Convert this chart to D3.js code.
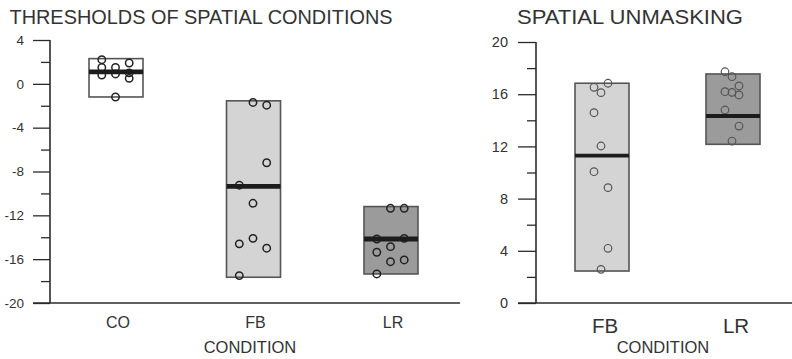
<!DOCTYPE html>
<html>
<head>
<meta charset="utf-8">
<script src="https://cdn.jsdelivr.net/npm/d3@7"></script>
<style>
  html, body { margin: 0; padding: 0; background: #fff; }
  svg { display: block; font-family: "Liberation Sans", Arial, Helvetica, sans-serif; }
</style>
</head>
<body>
<svg id="chart" width="792" height="359"></svg>
<script>
// ---------- DATA ----------
const leftTitle = "THRESHOLDS OF SPATIAL CONDITIONS";
const rightTitle = "SPATIAL UNMASKING";
const xAxisTitle = "CONDITION";

const leftCategories = ["CO", "FB", "LR"];
const leftTicks = [-20, -16, -12, -8, -4, 0, 4];
const leftMinorTicks = [-18, -14, -10, -6, -2, 2];
const leftBoxLow = [-1.2, -17.65, -17.35];
const leftBoxHigh = [2.3, -1.55, -11.2];
const leftCenterLine = [1.1, -9.35, -14.16];

const coValues = [2.2, 1.5, 0.8, 1.5, 0.9, -1.2, 1.9, 1.0, 0.5];
const coColumns = [-1, -1, -1, 0, 0, 0, 1, 1, 1];
const fbLeftValues = [-1.7, -1.95, -7.2, -9.25, -10.9, -14.1, -14.6, -15.0, -17.5];
const fbLeftColumns = [0, 1, 1, -1, 0, 0, -1, 1, -1];
const lrLeftValues = [-11.36, -11.36, -14.16, -14.1, -15.37, -14.86, -16.23, -16.07, -17.35];
const lrLeftColumns = [0, 1, -1, 1, -1, 0, 0, 1, -1];

const rightCategories = ["FB", "LR"];
const rightTicks = [0, 4, 8, 12, 16, 20];
const rightMinorTicks = [2, 6, 10, 14, 18];
const rightBoxLow = [2.45, 12.16];
const rightBoxHigh = [16.84, 17.55];
const rightCenterLine = [11.29, 14.33];

const fbRightValues = [16.84, 16.53, 16.12, 14.58, 12.03, 10.06, 8.84, 4.19, 2.58];
const fbRightColumns = [1, -1, 0, -1, 0, -1, 1, 1, 0];
const lrRightValues = [17.72, 17.34, 16.19, 16.14, 16.63, 15.94, 14.79, 13.56, 12.41];
const lrRightColumns = [-1, 0, -1, 0, 1, 1, -1, 1, 0];

const boxFills = { CO: "#ffffff", FB: "#d4d4d4", LR: "#9b9b9b" };

// ---------- DRAW ----------
const svg = d3.select("#chart");
const ink = "#2b2b2b";

function drawPanel(cfg) {
  const g = svg.append("g");
  const y = d3.scaleLinear().domain(cfg.yDomain).range([cfg.yBottom, cfg.yTop]);
  const x = d3.scaleBand().domain(cfg.categories).range(cfg.xRange).padding(0);
  const jitter = d3.scaleLinear().domain([-1, 1]).range([-cfg.jitter, cfg.jitter]);

  // title
  g.append("text")
    .attr("x", cfg.titleX).attr("y", 23.5)
    .attr("font-size", 20).attr("fill", "#333")
    .attr("textLength", cfg.titleLen).attr("lengthAdjust", "spacingAndGlyphs")
    .text(cfg.title);

  // y axis (major)
  const yAxis = d3.axisLeft(y).tickValues(cfg.ticks).tickSize(cfg.majorTick).tickPadding(cfg.tickPad)
    .tickFormat(d3.format("d"));
  const ya = g.append("g").attr("transform", `translate(${cfg.axisX},0)`).call(yAxis);
  ya.select(".domain").remove();
  ya.selectAll(".tick line").attr("stroke", ink).attr("stroke-width", 1.3);
  ya.selectAll(".tick text").attr("fill", "#333").attr("font-size", cfg.tickFont)
    .attr("font-family", "Liberation Sans, Arial, sans-serif")
    .text(d => d < 0 ? "-" + Math.abs(d) : d);
  // minor ticks
  const yMinor = d3.axisLeft(y).tickValues(cfg.minorTicks).tickSize(cfg.minorTick).tickFormat("");
  const ym = g.append("g").attr("transform", `translate(${cfg.axisX},0)`).call(yMinor);
  ym.select(".domain").remove();
  ym.selectAll(".tick line").attr("stroke", ink).attr("stroke-width", 1.3);

  // axis lines
  g.append("line").attr("x1", cfg.axisX).attr("x2", cfg.axisX)
    .attr("y1", y(cfg.yDomain[1])).attr("y2", y(cfg.yDomain[0]))
    .attr("stroke", ink).attr("stroke-width", 1.6);
  g.append("line").attr("x1", cfg.axisX - cfg.majorTick).attr("x2", cfg.xLineEnd)
    .attr("y1", y(cfg.yDomain[0])).attr("y2", y(cfg.yDomain[0]))
    .attr("stroke", ink).attr("stroke-width", 1.6);

  // boxes
  const boxes = cfg.categories.map((c, i) => ({ c, lo: cfg.low[i], hi: cfg.high[i], mid: cfg.center[i] }));
  g.selectAll("rect.box").data(boxes).enter().append("rect")
    .attr("class", "box")
    .attr("x", d => x(d.c) + x.bandwidth() / 2 - cfg.boxW / 2)
    .attr("width", cfg.boxW)
    .attr("y", d => y(d.hi))
    .attr("height", d => y(d.lo) - y(d.hi))
    .attr("fill", d => boxFills[d.c])
    .attr("stroke", "#555").attr("stroke-width", 1.6);

  // points
  cfg.points.forEach((p, i) => {
    const cx = x(cfg.categories[i]) + x.bandwidth() / 2 + cfg.pointShift;
    g.selectAll(null).data(p.values.map((v, k) => ({ v, col: p.cols[k] }))).enter()
      .append("circle")
      .attr("cx", d => cx + jitter(d.col))
      .attr("cy", d => y(d.v))
      .attr("r", cfg.r)
      .attr("fill", "none")
      .attr("stroke", cfg.pointStroke).attr("stroke-width", cfg.pointStrokeW);
  });

  // center lines (drawn over points)
  g.selectAll("line.mid").data(boxes).enter().append("line")
    .attr("x1", d => x(d.c) + x.bandwidth() / 2 - cfg.boxW / 2)
    .attr("x2", d => x(d.c) + x.bandwidth() / 2 + cfg.boxW / 2)
    .attr("y1", d => y(d.mid)).attr("y2", d => y(d.mid))
    .attr("stroke", "#1c1c1c").attr("stroke-width", cfg.midW);

  // category labels
  g.selectAll("text.cat").data(cfg.categories).enter().append("text")
    .attr("x", d => x(d) + x.bandwidth() / 2 + cfg.labelShift)
    .attr("y", cfg.catY)
    .attr("text-anchor", "middle")
    .attr("font-size", cfg.catFont).attr("fill", "#333")
    .text(d => d);

  // x title
  g.append("text")
    .attr("x", cfg.xTitleX).attr("y", 353)
    .attr("text-anchor", "middle")
    .attr("font-size", 16.5).attr("fill", "#333")
    .text(xAxisTitle);
}

drawPanel({
  title: leftTitle, titleX: 9.5, titleLen: 383,
  categories: leftCategories, yDomain: [-20, 4], yTop: 40, yBottom: 303,
  xRange: [47.25, 459.75], axisX: 50, xLineEnd: 460,
  ticks: leftTicks, minorTicks: leftMinorTicks, majorTick: 17, minorTick: 9, tickPad: 9, tickFont: 13.5,
  low: leftBoxLow, high: leftBoxHigh, center: leftCenterLine, boxW: 54,
  points: [{ values: coValues, cols: coColumns }, { values: fbLeftValues, cols: fbLeftColumns }, { values: lrLeftValues, cols: lrLeftColumns }],
  jitter: 13.7, pointShift: -0.5, r: 3.7, pointStroke: "#222", pointStrokeW: 1.5, midW: 4.8,
  labelShift: 2, catY: 328, catFont: 16, xTitleX: 250
});

drawPanel({
  title: rightTitle, titleX: 517, titleLen: 226,
  categories: rightCategories, yDomain: [0, 20], yTop: 42, yBottom: 303,
  xRange: [536.5, 798.5], axisX: 536, xLineEnd: 792,
  ticks: rightTicks, minorTicks: rightMinorTicks, majorTick: 18, minorTick: 9, tickPad: 10, tickFont: 14.5,
  low: rightBoxLow, high: rightBoxHigh, center: rightCenterLine, boxW: 54,
  points: [{ values: fbRightValues, cols: fbRightColumns }, { values: lrRightValues, cols: lrRightColumns }],
  jitter: 7, pointShift: -1, r: 3.8, pointStroke: "#555", pointStrokeW: 1.2, midW: 3.8,
  labelShift: 3, catY: 333, catFont: 20.5, xTitleX: 663
});
</script>
</body>
</html>
